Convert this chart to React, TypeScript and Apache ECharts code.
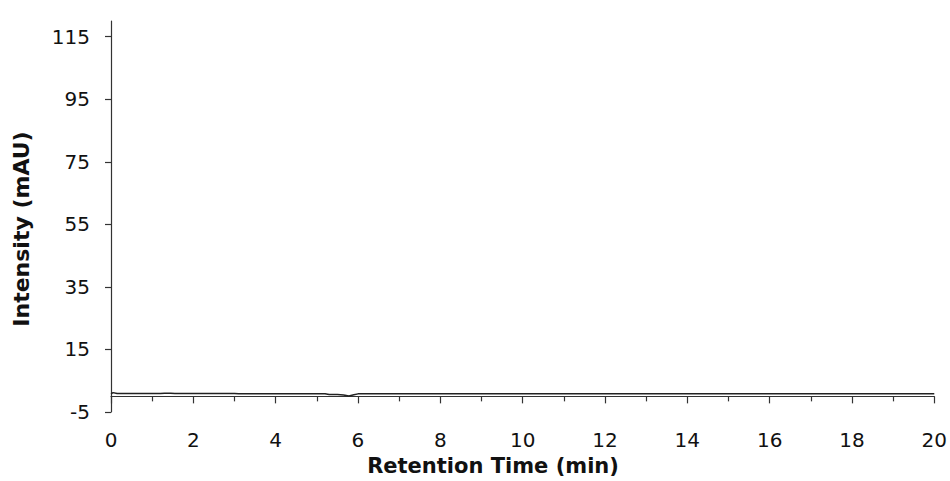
import React from 'react';
import * as echarts from 'echarts';

// chromatogram trace (time in min, intensity in mAU)
const retentionTimes = [0, 0.05, 0.15, 1.2, 1.3, 1.45, 1.55, 3.0, 3.1, 5.2, 5.3, 5.5, 5.65, 5.78, 5.9, 6.0, 6.1, 20];
const intensities = [0.8, 1.2, 0.9, 0.9, 1.0, 1.0, 0.9, 0.9, 0.85, 0.85, 0.6, 0.6, 0.4, 0.1, 0.5, 0.8, 0.85, 0.85];

const yTicks = [-5, 15, 35, 55, 75, 95, 115];

const FONT = '"DejaVu Sans", Verdana, sans-serif';

const App = () => {
  const chartRef = React.useRef(null);

  React.useEffect(() => {
    const myChart = echarts.init(chartRef.current, null, { renderer: 'svg' });

    const option: any = {
      animation: false,
      backgroundColor: '#fff',
      grid: { left: 111, right: 15, top: 21, bottom: 69 },
      xAxis: {
        type: 'value',
        min: 0,
        max: 20,
        interval: 2,
        axisLine: { lineStyle: { color: '#333', width: 1.2 } },
        axisTick: { length: 7, lineStyle: { color: '#333', width: 1.2 } },
        minorTick: { show: true, splitNumber: 2, length: 5, lineStyle: { color: '#333', width: 1.2 } },
        axisLabel: { color: '#111', fontSize: 20, fontFamily: FONT, margin: 18 },
        splitLine: { show: false },
      },
      yAxis: {
        type: 'value',
        min: -5,
        max: 120,
        interval: 20,
        axisLine: { show: true, lineStyle: { color: '#333', width: 1.2 } },
        axisTick: { show: true, length: 6, customValues: yTicks, lineStyle: { color: '#333', width: 1.2 } },
        axisLabel: { color: '#111', fontSize: 20, fontFamily: FONT, margin: 21, customValues: yTicks },
        splitLine: { show: false },
      },
      graphic: [
        {
          type: 'text',
          x: 493,
          y: 466,
          style: {
            text: 'Retention Time (min)',
            font: `bold 21px ${FONT}`,
            fill: '#111',
            textAlign: 'center',
            textVerticalAlign: 'middle',
          },
        },
        {
          type: 'text',
          x: 21,
          y: 229,
          rotation: Math.PI / 2,
          style: {
            text: 'Intensity (mAU)',
            font: `bold 22px ${FONT}`,
            fill: '#111',
            textAlign: 'center',
            textVerticalAlign: 'middle',
          },
        },
      ],
      series: [
        {
          type: 'line',
          data: retentionTimes.map((t, i) => [t, intensities[i]]),
          showSymbol: false,
          lineStyle: { color: '#222', width: 1.5 },
        },
      ],
    };

    myChart.setOption(option);

    return () => {
      myChart.dispose();
    };
  }, []);

  return (
    <div
      ref={chartRef}
      style={{ position: 'absolute', left: 0, top: 0, width: '950px', height: '481px' }}
    />
  );
};

export default App;
